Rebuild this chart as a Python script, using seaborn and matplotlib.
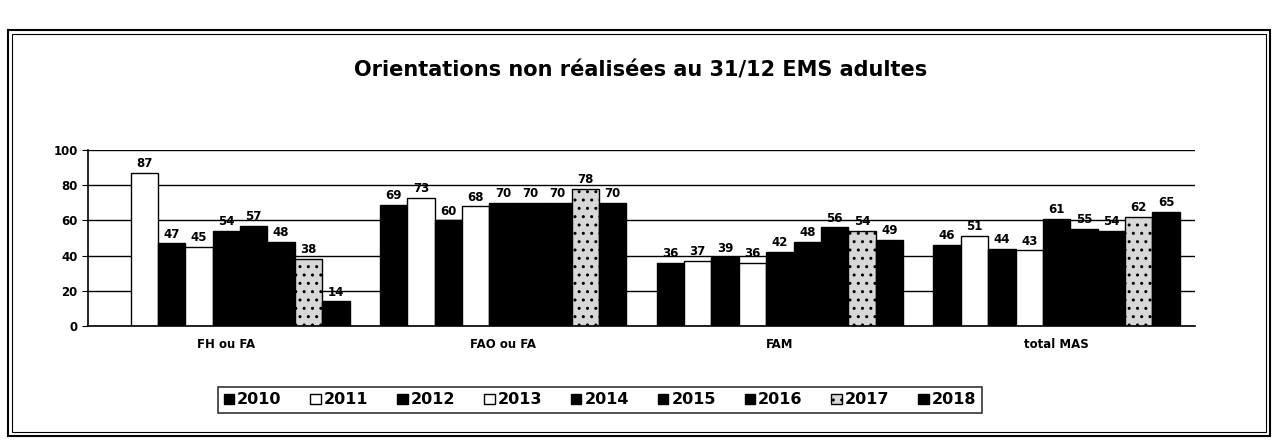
import numpy as np
import pandas as pd
import matplotlib
matplotlib.use("Agg")
import matplotlib.pyplot as plt
import seaborn as sns
from matplotlib.patches import Patch, Rectangle

categories = ["FH ou FA", "FAO ou FA", "FAM", "total MAS"]
years = ["2010", "2011", "2012", "2013", "2014", "2015", "2016", "2017", "2018"]
values = {
    "2010": [np.nan, 69, 36, 46],
    "2011": [87, 73, 37, 51],
    "2012": [47, 60, 39, 44],
    "2013": [45, 68, 36, 43],
    "2014": [54, 70, 42, 61],
    "2015": [57, 70, 48, 55],
    "2016": [48, 70, 56, 54],
    "2017": [38, 78, 54, 62],
    "2018": [14, 70, 49, 65],
}
fills = {"2010": "black", "2011": "white", "2012": "black", "2013": "white",
         "2014": "black", "2015": "black", "2016": "black", "2017": "#d8d8d8",
         "2018": "black"}

rows = []
for y in years:
    for c, v in zip(categories, values[y]):
        rows.append({"cat": c, "year": y, "val": v})
df = pd.DataFrame(rows)

sns.set_style("white")
plt.rcParams["font.family"] = ["Liberation Sans", "DejaVu Sans"]
plt.rcParams["text.color"] = "black"
plt.rcParams["xtick.color"] = "black"
plt.rcParams["ytick.color"] = "black"
plt.rcParams["axes.labelcolor"] = "black"
plt.rcParams["axes.edgecolor"] = "black"

fig = plt.figure(figsize=(12.79, 4.46), dpi=100)
ax = fig.add_axes([88/1279, 1-326/446, (1195-88)/1279, (326-150)/446])

sns.barplot(data=df, x="cat", y="val", hue="year", hue_order=years,
            palette=fills, width=0.89, gap=0, edgecolor="black", linewidth=1,
            ax=ax, legend=False, saturation=1)

for cont, y in zip(ax.containers, years):
    for p in cont.patches:
        if p is None:
            continue
        p.set_edgecolor("black")
        if y == "2017":
            p.set_hatch("..::")
        h = p.get_height()
        if np.isnan(h):
            continue
        ax.annotate(f"{int(round(h))}", (p.get_x() + p.get_width() / 2, h),
                    xytext=(0, 2), textcoords="offset points", ha="center",
                    va="bottom", fontsize=8.5, fontweight="bold",
                    family="DejaVu Sans", color="black")

ax.set_ylim(0, 100)
ax.set_yticks([0, 20, 40, 60, 80, 100])
ax.set_xlim(-0.5, 3.5)
ax.set_axisbelow(True)
ax.grid(axis="y", color="black", linewidth=1)
ax.set_xlabel("")
ax.set_ylabel("")
for s in ["top", "right"]:
    ax.spines[s].set_visible(False)
for s in ["left", "bottom"]:
    ax.spines[s].set_color("black")
    ax.spines[s].set_linewidth(1.2)
ax.tick_params(axis="y", left=True, length=4, color="black", labelcolor="black",
               labelsize=8.5)
for t in ax.get_yticklabels():
    t.set_fontweight("bold")
    t.set_family("DejaVu Sans")
ax.set_xticks([0, 1, 2, 3])
ax.set_xticklabels(categories, fontsize=8.5, fontweight="bold", family="DejaVu Sans")
ax.tick_params(axis="x", which="major", length=0, pad=9, labelcolor="black")
ax.set_xticks([0.5, 1.5, 2.5, 3.5], minor=True)
ax.tick_params(axis="x", which="minor", length=6, color="black", direction="out")

handles = [Patch(facecolor=fills[y], edgecolor="black",
                 hatch="..::" if y == "2017" else None, label=y) for y in years]
leg = fig.legend(handles=handles, loc="center", bbox_to_anchor=(600/1279, 1-400/446),
                 ncol=9, frameon=True, handlelength=0.65,
                 handleheight=0.65, handletextpad=0.2, columnspacing=1.8,
                 borderpad=0.35, fancybox=False, labelcolor="black",
                 prop={"family": "DejaVu Sans", "weight": "bold", "size": 11.5})
leg.get_frame().set_edgecolor("black")
leg.get_frame().set_linewidth(1.2)

fig.text(641/1279, 1-71/446, "Orientations non réalisées au 31/12 EMS adultes",
         ha="center", va="center", fontsize=15, fontweight="bold",
         family="DejaVu Sans", color="black")

fig.patches.append(Rectangle((8/1279, 1-436/446), (1270-8)/1279, (436-30)/446,
                             transform=fig.transFigure, fill=False,
                             edgecolor="black", linewidth=1.5))
fig.patches.append(Rectangle((12/1279, 1-432/446), (1266-12)/1279, (432-34)/446,
                             transform=fig.transFigure, fill=False,
                             edgecolor="black", linewidth=0.8))

fig.savefig("out.png", dpi=100, facecolor="white")
